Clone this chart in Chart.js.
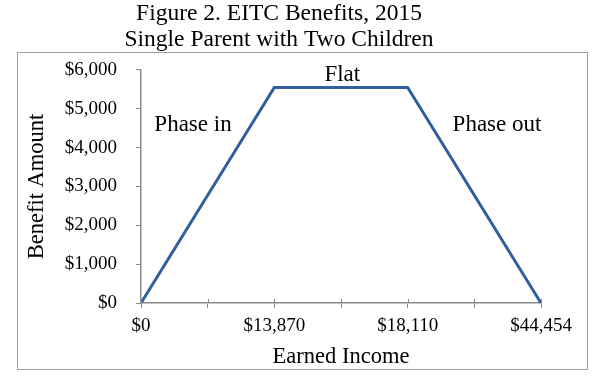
<!DOCTYPE html>
<html>
<head>
<meta charset="utf-8">
<script src="https://cdn.jsdelivr.net/npm/chart.js@4/dist/chart.umd.min.js"></script>
<style>
  html, body { margin: 0; padding: 0; background: #fff; }
  #wrap { width: 600px; height: 388px; }
</style>
</head>
<body>
<div id="wrap"><canvas id="c" width="600" height="388"></canvas></div>
<script>
const incomeLabels = ['$0', '$13,870', '$18,110', '$44,454'];
const benefitValues = [0, 5548, 5548, 0];
const yTicks = [0, 1000, 2000, 3000, 4000, 5000, 6000];
const phaseNotes = [
  { text: 'Phase in', x: 0.39, y: 4580 },
  { text: 'Flat', x: 1.51, y: 5880 },
  { text: 'Phase out', x: 2.67, y: 4580 }
];

const SERIF = '"Liberation Serif", "Times New Roman", serif';
const BLUE = '#2f5f9e';
const AXIS = '#8a8a8a';

const framePlugin = {
  id: 'frame',
  beforeDraw(chart) {
    const ctx = chart.ctx;
    ctx.save();
    ctx.fillStyle = '#fff';
    ctx.fillRect(0, 0, chart.width, chart.height);
    ctx.strokeStyle = '#a0a0a0';
    ctx.lineWidth = 1;
    ctx.strokeRect(17.5, 52.5, 570, 317);
    ctx.restore();
  }
};

const notesPlugin = {
  id: 'notes',
  afterDatasetsDraw(chart) {
    const ctx = chart.ctx;
    const xs = chart.scales.x, ys = chart.scales.y;
    ctx.save();
    // small tick marks crossing the x axis
    ctx.strokeStyle = AXIS;
    ctx.lineWidth = 1;
    xs.ticks.forEach(t => {
      const px = Math.round(xs.getPixelForValue(t.value)) + 0.5;
      ctx.beginPath();
      ctx.moveTo(px, ys.bottom - 4);
      ctx.lineTo(px, ys.bottom);
      ctx.stroke();
    });
    ctx.fillStyle = '#000';
    ctx.font = '23px ' + SERIF;
    ctx.textAlign = 'center';
    ctx.textBaseline = 'middle';
    phaseNotes.forEach(n => {
      ctx.fillText(n.text, xs.getPixelForValue(n.x), ys.getPixelForValue(n.y));
    });
    ctx.restore();
  }
};

new Chart(document.getElementById('c'), {
  type: 'line',
  data: {
    datasets: [{
      data: benefitValues.map((v, i) => ({ x: i, y: v })),
      borderColor: BLUE,
      borderWidth: 3,
      pointRadius: 0,
      tension: 0,
      fill: false
    }]
  },
  options: {
    responsive: false,
    animation: false,
    events: [],
    layout: { padding: { left: 17, right: 59, top: 0, bottom: 17 } },
    plugins: {
      legend: { display: false },
      tooltip: { enabled: false },
      title: {
        display: true,
        text: ['Figure 2. EITC Benefits, 2015', 'Single Parent with Two Children'],
        color: '#000',
        font: { family: SERIF, size: 23.5, weight: 'normal', lineHeight: 1.106 },
        padding: { top: 1, bottom: 17 }
      }
    },
    scales: {
      x: {
        type: 'linear',
        min: 0,
        max: incomeLabels.length - 1,
        afterBuildTicks(scale) {
          const t = [];
          for (let i = 0; i <= (incomeLabels.length - 1) * 2; i++) t.push({ value: i / 2 });
          scale.ticks = t;
        },
        afterFit(scale) { scale.height = 68; },
        ticks: {
          autoSkip: false,
          maxRotation: 0,
          color: '#000',
          font: { family: SERIF, size: 19 },
          padding: 7,
          callback: v => Number.isInteger(v) ? incomeLabels[v] : ''
        },
        grid: { display: true, drawOnChartArea: false, drawTicks: true, tickLength: 5, color: AXIS, lineWidth: 1 },
        border: { display: true, color: AXIS, width: 1.5 },
        title: {
          display: true,
          text: 'Earned Income',
          color: '#000',
          font: { family: SERIF, size: 22.5 },
          padding: { top: 2.5, bottom: 0 }
        }
      },
      y: {
        min: 0,
        max: 6000,
        afterBuildTicks(scale) { scale.ticks = yTicks.map(v => ({ value: v })); },
        afterFit(scale) { scale.width = 124; },
        ticks: {
          color: '#000',
          font: { family: SERIF, size: 19 },
          padding: 19,
          callback: v => '$' + v.toLocaleString('en-US')
        },
        grid: { display: true, drawOnChartArea: false, drawTicks: true, tickLength: 5, color: AXIS, lineWidth: 1 },
        border: { display: true, color: AXIS, width: 1.5 },
        title: {
          display: true,
          text: 'Benefit Amount',
          color: '#000',
          font: { family: SERIF, size: 22.5 },
          padding: { top: 6.5, bottom: 0 }
        }
      }
    }
  },
  plugins: [framePlugin, notesPlugin]
});
</script>
</body>
</html>
